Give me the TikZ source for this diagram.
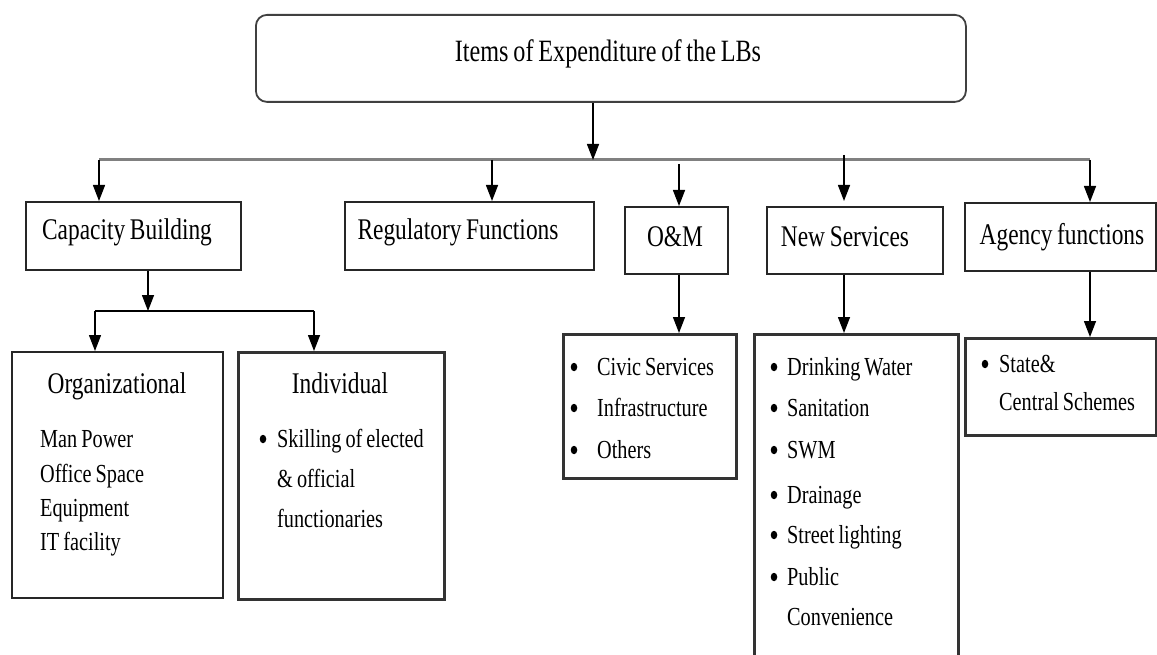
\documentclass[tikz,border=0pt]{standalone}
\usepackage{fontspec}
\setmainfont{Liberation Serif}[FakeStretch=0.78, WordSpace=0.8]
\usetikzlibrary{arrows.meta,shapes.geometric}
\begin{document}
\begin{tikzpicture}[x=1pt,y=-1pt,
  box/.style={draw=black!85, line width=1.6pt, inner sep=0pt, anchor=north west},
  heavybox/.style={draw=black!80, line width=2.8pt, inner sep=0pt, anchor=north west},
  headbox/.style={draw=black!75, line width=1.8pt, rounded corners=11pt, inner sep=0pt, anchor=north west},
  arr/.style={draw=black, line width=1.4pt, -{Triangle[length=16pt,width=12pt]}},
  link/.style={draw=black, line width=1.6pt},
  bus/.style={draw=black!50, line width=3pt},
  ttl/.style={inner sep=0pt, anchor=base, font=\fontsize{30}{34}\selectfont},
  itm/.style={inner sep=0pt, anchor=base west, font=\fontsize{26}{30}\selectfont},
  dot/.style={ellipse, fill=black, inner sep=0pt, minimum width=6.5pt, minimum height=8.5pt, yshift=8pt}]
\useasboundingbox (0,0) rectangle (1157,655);

% root
\node[headbox, minimum width=710pt, minimum height=87pt] (top) at (255,14) {};
\node[ttl, font=\fontsize{31}{34}\selectfont] (topt) at (608,62) {Items of Expenditure of the LBs};

% first level boxes
\node[box, minimum width=215pt, minimum height=68pt] (cap) at (25,201) {};
\node[ttl] (capt) at (127,240) {Capacity Building};
\node[box, minimum width=249pt, minimum height=68pt] (reg) at (344,201) {};
\node[ttl] (regt) at (458,240) {Regulatory Functions};
\node[box, minimum width=103pt, minimum height=67pt] (om) at (624,206) {};
\node[ttl] (omt) at (675,247) {O\&M};
\node[box, minimum width=176pt, minimum height=67pt] (new) at (766,206) {};
\node[ttl] (newt) at (845,247) {New Services};
\node[box, minimum width=191pt, minimum height=68pt] (agency) at (964,202) {};
\node[ttl] (agencyt) at (1062,245) {Agency functions};

% capacity building children
\node[box, minimum width=211pt, minimum height=246pt] (org) at (11,351) {};
\node[ttl] (orgt) at (117,393) {Organizational};
\node[itm] (o1) at (40,447) {Man Power};
\node[itm] (o2) at (40,482) {Office Space};
\node[itm] (o3) at (40,516) {Equipment};
\node[itm] (o4) at (40,550) {IT facility};

\node[heavybox, minimum width=206pt, minimum height=247pt] (ind) at (237,351) {};
\node[ttl] (indt) at (340,393) {Individual};
\node[dot] (ib1) at (263,447) {};
\node[itm] (i1) at (277,447) {Skilling of elected};
\node[itm] (i2) at (277,487) {\& official};
\node[itm] (i3) at (277,527) {functionaries};

% O&M list
\node[heavybox, minimum width=173pt, minimum height=144pt] (civic) at (562,333) {};
\node[dot] (cb1) at (574,375) {};
\node[itm] (c1) at (597,375) {Civic Services};
\node[dot] (cb2) at (574,416) {};
\node[itm] (c2) at (597,416) {Infrastructure};
\node[dot] (cb3) at (574,458) {};
\node[itm] (c3) at (597,458) {Others};

% new services list
\node[heavybox, minimum width=204pt, minimum height=350pt] (nlist) at (753,333) {};
\node[dot] (nb1) at (774,375) {};
\node[itm] (n1) at (787,375) {Drinking Water};
\node[dot] (nb2) at (774,416) {};
\node[itm] (n2) at (787,416) {Sanitation};
\node[dot] (nb3) at (774,458) {};
\node[itm] (n3) at (787,458) {SWM};
\node[dot] (nb4) at (774,503) {};
\node[itm] (n4) at (787,503) {Drainage};
\node[dot] (nb5) at (774,543) {};
\node[itm] (n5) at (787,543) {Street lighting};
\node[dot] (nb6) at (774,585) {};
\node[itm] (n6) at (787,585) {Public};
\node[itm] (n7) at (787,625) {Convenience};

% agency list
\node[heavybox, minimum width=191pt, minimum height=97pt] (state) at (964,337) {};
\node[dot] (sb1) at (985,372) {};
\node[itm] (s1) at (999,372) {State\&};
\node[itm] (s2) at (999,410) {Central Schemes};

% distribution bus
\coordinate (busL) at (99,160);
\coordinate (busR) at (1090,160);
\coordinate (busT) at (593,160);
\coordinate (b2) at (492,160);
\coordinate (b3) at (679,164);
\coordinate (b4) at (844,155);
\draw[bus] (busL) -- (busR);
\draw[arr] (top.south -| busT) -- (busT);
\draw[arr] (busL) -- (busL |- cap.north);
\draw[arr] (b2) -- (b2 |- reg.north);
\draw[arr] (b3) -- (b3 |- om.north);
\draw[arr, shorten >=5pt] (b4) -- (b4 |- new.north);
\draw[arr] (busR) -- (busR |- agency.north);

% capacity building split
\coordinate (cs) at (148,311);
\coordinate (csL) at (95,311);
\coordinate (csR) at (314,311);
\draw[arr] (cap.south -| cs) -- (cs);
\draw[link] (csL) -- (csR);
\draw[arr] (csL) -- (csL |- org.north);
\draw[arr] (csR) -- (csR |- ind.north);

% lower links
\draw[arr] (om.south -| b3) -- (b3 |- civic.north);
\draw[arr] (new.south -| b4) -- (b4 |- nlist.north);
\draw[arr] (agency.south -| busR) -- (busR |- state.north);
\end{tikzpicture}
\end{document}
